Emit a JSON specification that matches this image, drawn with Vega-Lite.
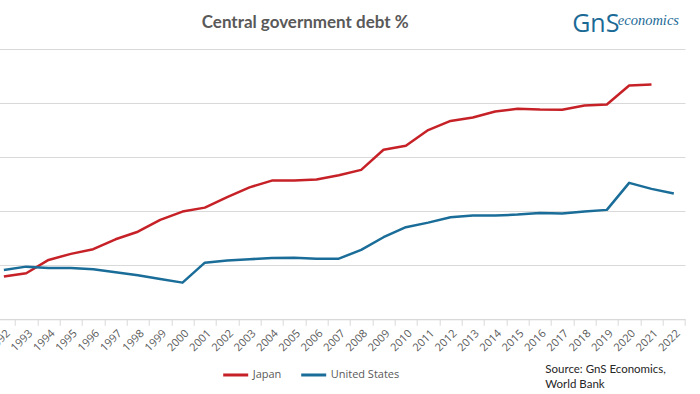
{
  "$schema": "https://vega.github.io/schema/vega-lite/v6.json",
  "autosize": "none",
  "padding": {"left": -7.3, "top": 49, "right": 15, "bottom": 74.4},
  "width": 692.3,
  "height": 270.3,
  "background": "white",
  "config": {
    "view": {"stroke": null},
    "axis": {"labelFont": "Open Sans", "labelColor": "#595959", "labelFontSize": 11}
  },
  "datasets": {
    "debt": [
      {"year": "1992", "country": "Japan", "value": 39.6},
      {"year": "1993", "country": "Japan", "value": 42.6},
      {"year": "1994", "country": "Japan", "value": 54.9},
      {"year": "1995", "country": "Japan", "value": 60.5},
      {"year": "1996", "country": "Japan", "value": 64.8},
      {"year": "1997", "country": "Japan", "value": 74.0},
      {"year": "1998", "country": "Japan", "value": 81.0},
      {"year": "1999", "country": "Japan", "value": 92.0},
      {"year": "2000", "country": "Japan", "value": 99.6},
      {"year": "2001", "country": "Japan", "value": 103.3},
      {"year": "2002", "country": "Japan", "value": 113.0},
      {"year": "2003", "country": "Japan", "value": 122.0},
      {"year": "2004", "country": "Japan", "value": 128.3},
      {"year": "2005", "country": "Japan", "value": 128.3},
      {"year": "2006", "country": "Japan", "value": 129.3},
      {"year": "2007", "country": "Japan", "value": 133.3},
      {"year": "2008", "country": "Japan", "value": 138.2},
      {"year": "2009", "country": "Japan", "value": 156.8},
      {"year": "2010", "country": "Japan", "value": 160.5},
      {"year": "2011", "country": "Japan", "value": 175.0},
      {"year": "2012", "country": "Japan", "value": 183.5},
      {"year": "2013", "country": "Japan", "value": 186.7},
      {"year": "2014", "country": "Japan", "value": 192.2},
      {"year": "2015", "country": "Japan", "value": 194.7},
      {"year": "2016", "country": "Japan", "value": 194.0},
      {"year": "2017", "country": "Japan", "value": 193.8},
      {"year": "2018", "country": "Japan", "value": 197.8},
      {"year": "2019", "country": "Japan", "value": 198.7},
      {"year": "2020", "country": "Japan", "value": 216.3},
      {"year": "2021", "country": "Japan", "value": 217.2},
      {"year": "1992", "country": "United States", "value": 45.6},
      {"year": "1993", "country": "United States", "value": 48.7},
      {"year": "1994", "country": "United States", "value": 47.5},
      {"year": "1995", "country": "United States", "value": 47.5},
      {"year": "1996", "country": "United States", "value": 46.3},
      {"year": "1997", "country": "United States", "value": 43.5},
      {"year": "1998", "country": "United States", "value": 40.7},
      {"year": "1999", "country": "United States", "value": 37.3},
      {"year": "2000", "country": "United States", "value": 33.9},
      {"year": "2001", "country": "United States", "value": 52.4},
      {"year": "2002", "country": "United States", "value": 54.3},
      {"year": "2003", "country": "United States", "value": 55.5},
      {"year": "2004", "country": "United States", "value": 56.8},
      {"year": "2005", "country": "United States", "value": 57.0},
      {"year": "2006", "country": "United States", "value": 56.1},
      {"year": "2007", "country": "United States", "value": 56.1},
      {"year": "2008", "country": "United States", "value": 64.2},
      {"year": "2009", "country": "United States", "value": 75.9},
      {"year": "2010", "country": "United States", "value": 85.2},
      {"year": "2011", "country": "United States", "value": 89.4},
      {"year": "2012", "country": "United States", "value": 94.4},
      {"year": "2013", "country": "United States", "value": 95.9},
      {"year": "2014", "country": "United States", "value": 95.9},
      {"year": "2015", "country": "United States", "value": 96.9},
      {"year": "2016", "country": "United States", "value": 98.4},
      {"year": "2017", "country": "United States", "value": 97.8},
      {"year": "2018", "country": "United States", "value": 99.6},
      {"year": "2019", "country": "United States", "value": 101.2},
      {"year": "2020", "country": "United States", "value": 126.2},
      {"year": "2021", "country": "United States", "value": 120.6},
      {"year": "2022", "country": "United States", "value": 116.3}
    ],
    "title": [{"year": "2005", "value": 269.7, "label": "Central government debt %"}],
    "logo1": [{"year": "2017", "value": 265.5, "label": "GnS"}],
    "logo2": [{"year": "2019", "value": 272, "label": "economics"}],
    "source": [{"year": "2016", "value": -49.7, "label": "Source: GnS Economics,\nWorld Bank"}]
  },
  "layer": [
    {
      "data": {"name": "debt"},
      "mark": {"type": "line", "strokeWidth": 2.5, "strokeJoin": "round"},
      "encoding": {
        "x": {
          "field": "year",
          "type": "ordinal",
          "title": null,
          "scale": {
            "type": "band",
            "paddingInner": 0,
            "paddingOuter": 0,
            "domain": ["1992","1993","1994","1995","1996","1997","1998","1999","2000","2001","2002","2003","2004","2005","2006","2007","2008","2009","2010","2011","2012","2013","2014","2015","2016","2017","2018","2019","2020","2021","2022"]
          },
          "axis": {
            "labelAngle": -45,
            "tickBand": "extent",
            "domainColor": "#d9d9d9",
            "tickColor": "#d9d9d9",
            "tickSize": 6,
            "grid": false,
            "labelPadding": 2
          }
        },
        "y": {
          "field": "value",
          "type": "quantitative",
          "title": null,
          "scale": {"domain": [0, 250], "nice": false, "zero": true},
          "axis": {
            "values": [0, 50, 100, 150, 200, 250],
            "labels": false,
            "ticks": false,
            "domain": false,
            "gridColor": "#d9d9d9",
            "gridWidth": 1
          }
        },
        "color": {
          "field": "country",
          "type": "nominal",
          "scale": {"domain": ["Japan", "United States"], "range": ["#C62127", "#1A6D98"]},
          "legend": {
            "title": null,
            "orient": "none",
            "direction": "horizontal",
            "legendX": 229,
            "legendY": 312,
            "symbolType": "stroke",
            "symbolSize": 625,
            "symbolStrokeWidth": 3,
            "labelFont": "Open Sans",
            "labelFontSize": 11,
            "labelColor": "#595959",
            "labelOffset": 3,
            "columnPadding": 13
          }
        }
      }
    },
    {
      "data": {"name": "title"},
      "mark": {"type": "text", "align": "center", "baseline": "alphabetic", "dx": 11, "font": "Lato", "fontSize": 17, "fontWeight": "bold", "color": "#595959"},
      "encoding": {
        "x": {"field": "year", "type": "ordinal"},
        "y": {"field": "value", "type": "quantitative"},
        "text": {"field": "label"}
      }
    },
    {
      "data": {"name": "logo1"},
      "mark": {"type": "text", "align": "left", "baseline": "alphabetic", "dx": 10, "font": "Open Sans", "fontSize": 25, "color": "#1B6A96"},
      "encoding": {
        "x": {"field": "year", "type": "ordinal"},
        "y": {"field": "value", "type": "quantitative"},
        "text": {"field": "label"}
      }
    },
    {
      "data": {"name": "logo2"},
      "mark": {"type": "text", "align": "left", "baseline": "alphabetic", "dx": 11, "font": "Liberation Serif", "fontStyle": "italic", "fontSize": 14.5, "color": "#1B6A96"},
      "encoding": {
        "x": {"field": "year", "type": "ordinal"},
        "y": {"field": "value", "type": "quantitative"},
        "text": {"field": "label"}
      }
    },
    {
      "data": {"name": "source"},
      "mark": {"type": "text", "align": "left", "baseline": "alphabetic", "dx": 5.5, "lineBreak": "\n", "lineHeight": 15, "font": "Lato", "fontSize": 11.5, "color": "#262626"},
      "encoding": {
        "x": {"field": "year", "type": "ordinal"},
        "y": {"field": "value", "type": "quantitative"},
        "text": {"field": "label"}
      }
    }
  ]
}
